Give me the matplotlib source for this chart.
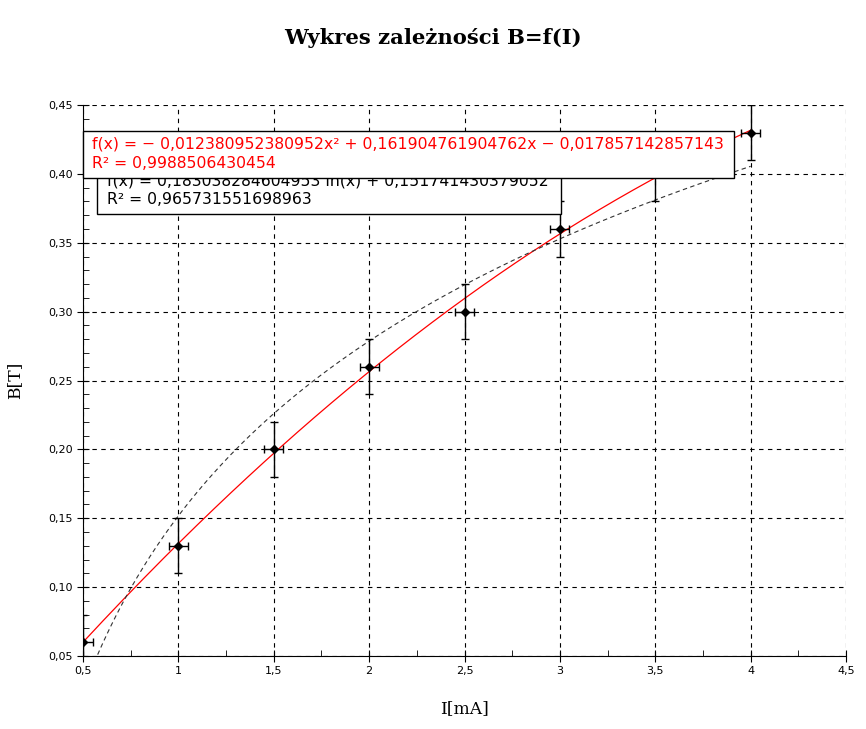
import numpy as np
import matplotlib
matplotlib.use("Agg")
import matplotlib.pyplot as plt
from matplotlib.patches import Rectangle
from matplotlib.ticker import MultipleLocator, FuncFormatter

# dane pomiarowe
I = np.array([0.5, 1.0, 1.5, 2.0, 2.5, 3.0, 3.5, 4.0])
B = np.array([0.06, 0.13, 0.20, 0.26, 0.30, 0.36, 0.40, 0.43])
dI = 0.05
dB = 0.02

poly_txt = ["f(x) = \u2212 0,012380952380952x\u00b2 + 0,161904761904762x \u2212 0,017857142857143",
            "R\u00b2 = 0,9988506430454"]
log_txt = ["f(x) = 0,183038284604953 ln(x) + 0,151741430379052",
           "R\u00b2 = 0,965731551698963"]

# dopasowania
p2 = np.polyfit(I, B, 2)
pl = np.polyfit(np.log(I), B, 1)

fig = plt.figure(figsize=(8.66, 7.29), dpi=100)
ax = fig.add_axes([83/866, 1-656/729, (846-83)/866, (656-105)/729])

xs = np.linspace(0.5, 4.0, 200)
ax.plot(xs, np.polyval(p2, xs), color="red", lw=0.9, zorder=3)
xl = np.linspace(0.5, 4.0, 200)
ax.plot(xl, np.polyval(pl, np.log(xl)), color="#333333", lw=0.8, ls=(0, (4, 3)), zorder=3)
ax.errorbar(I, B, xerr=dI, yerr=dB, fmt="D", color="black", ms=4, lw=1,
            capsize=3, capthick=1, zorder=4, clip_on=True)

ax.set_xlim(0.5, 4.5)
ax.set_ylim(0.05, 0.45)
ax.xaxis.set_major_locator(MultipleLocator(0.5))
ax.xaxis.set_minor_locator(MultipleLocator(0.25))
ax.yaxis.set_major_locator(MultipleLocator(0.05))
ax.yaxis.set_minor_locator(MultipleLocator(0.01))

def fx(v, pos):
    s = ("%.1f" % v).replace(".", ",")
    return s[:-2] if s.endswith(",0") else s

ax.xaxis.set_major_formatter(FuncFormatter(fx))
ax.yaxis.set_major_formatter(FuncFormatter(lambda v, p: ("%.2f" % v).replace(".", ",")))
ax.tick_params(which="major", direction="inout", length=8, labelsize=8)
ax.tick_params(which="minor", direction="in", length=4)
ax.grid(True, which="major", color="black", ls=(0, (4, 4)), lw=0.8)
ax.spines["top"].set_visible(False)
ax.spines["right"].set_visible(False)

fig.text(0.5, 1-38/729, "Wykres zale\u017cno\u015bci B=f(I)", ha="center", va="center",
         family="DejaVu Serif", fontweight="bold", fontsize=15.2)
fig.text((83+846)/2/866, 1-709/729, "I[mA]", ha="center", va="center",
         family="DejaVu Serif", fontsize=12.3)
fig.text(15/866, 1-380/729, "B[T]", ha="center", va="center", rotation=90,
         family="DejaVu Serif", fontsize=12.3)

# ramki z opisem dopasowan
W, H = 866, 729
fs = 11.25
fig.patches.append(Rectangle((97/W, 1-214/H), (561-97)/W, (214-150)/H, transform=fig.transFigure,
                             facecolor="white", edgecolor="black", lw=1, zorder=5))
fig.text(107/W, 1-181/H, log_txt[0], color="black", fontsize=fs, va="center", zorder=6)
fig.text(107/W, 1-199/H, log_txt[1], color="black", fontsize=fs, va="center", zorder=6)
fig.patches.append(Rectangle((83/W, 1-178/H), (734-83)/W, (178-131)/H, transform=fig.transFigure,
                             facecolor="white", edgecolor="black", lw=1, zorder=7))
fig.text(92/W, 1-144/H, poly_txt[0], color="red", fontsize=fs, va="center", zorder=8)
fig.text(92/W, 1-163/H, poly_txt[1], color="red", fontsize=fs, va="center", zorder=8)

fig.savefig("out.png", dpi=100)
